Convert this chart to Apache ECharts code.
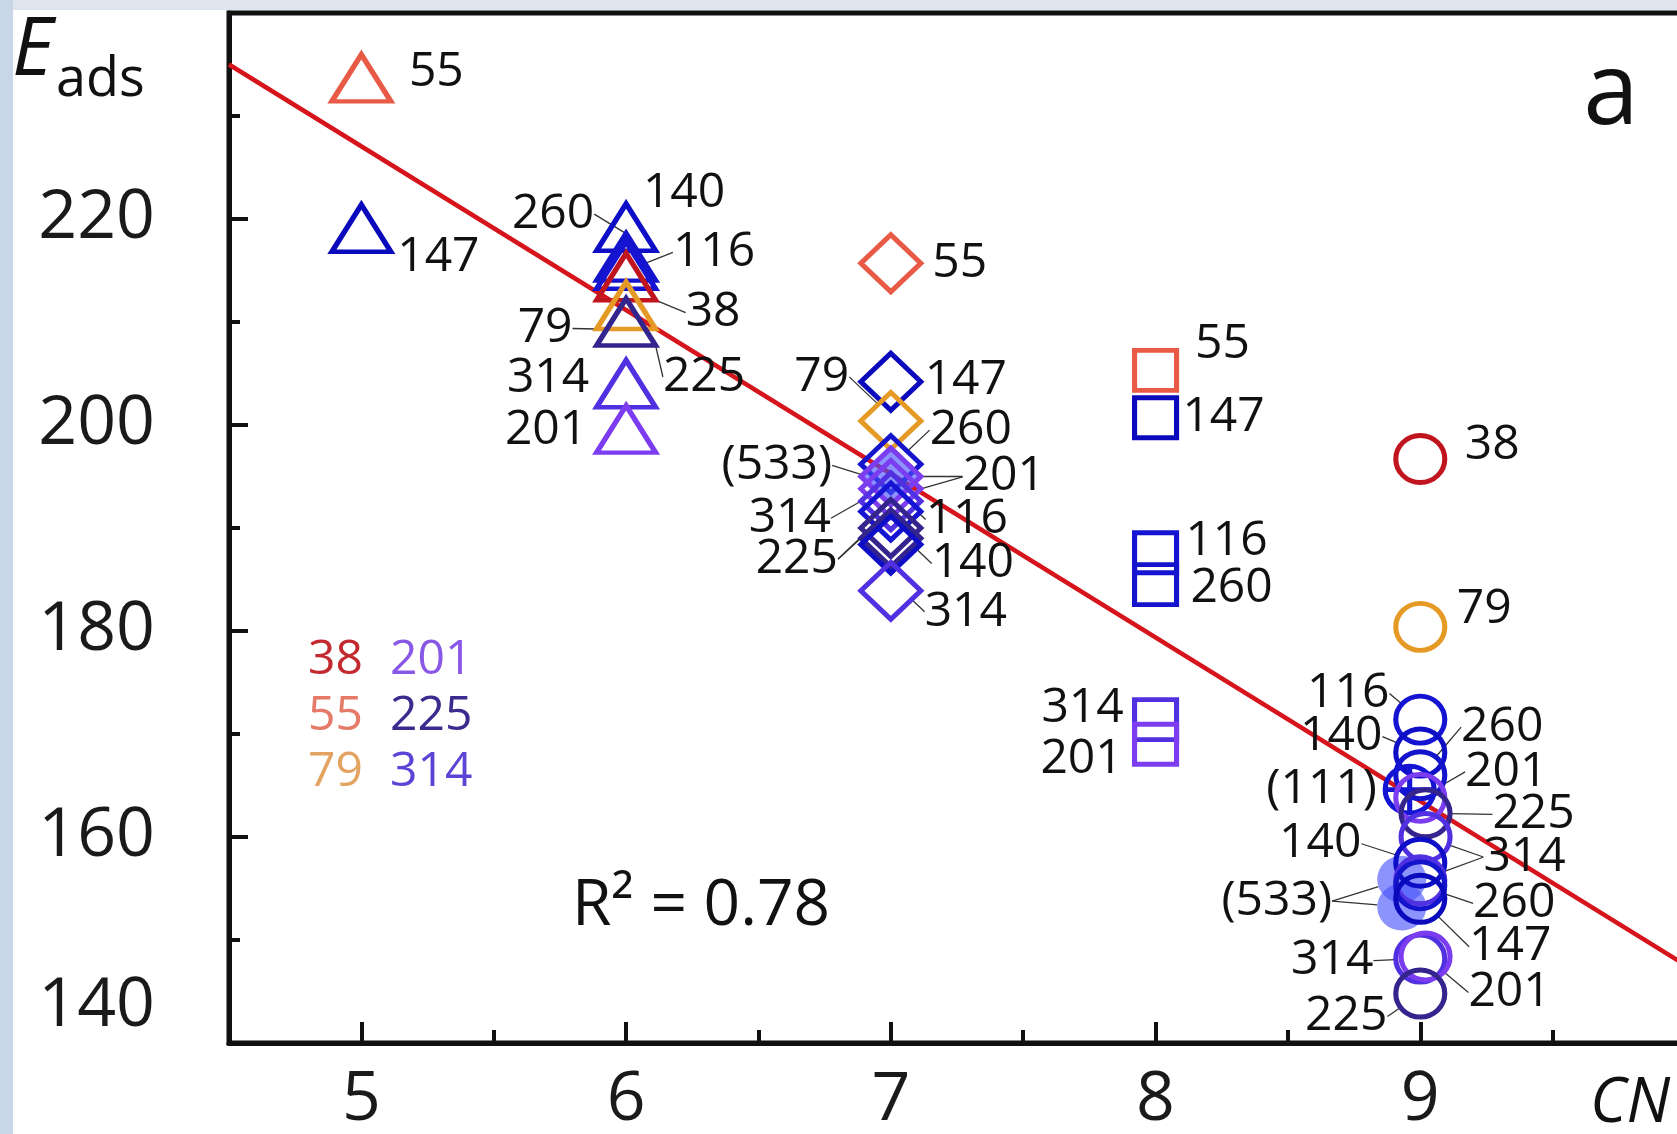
<!DOCTYPE html>
<html>
<head>
<meta charset="utf-8">
<style>
  html, body { margin: 0; padding: 0; background: #fff; }
  #chart { width: 1677px; height: 1134px; }
</style>
<script src="https://cdn.jsdelivr.net/npm/echarts@6/dist/echarts.min.js"></script>
</head>
<body>
<div id="chart"></div>
<script>
// axis ticks
const xLabelValues = [5, 6, 7, 8, 9];
const xMajorTicks = [5, 6, 7, 8, 9, 10];
const xMinorTicks = [5.5, 6.5, 7.5, 8.5, 9.5];
const yLabelValues = [140, 160, 180, 200, 220];

// CN = 5, triangles
const cn5Sizes = ['55', '147'];
const cn5Eads = [233.7, 219.1];
// CN = 6, triangles
const cn6Sizes = ['140', '260', '116', '38', '79', '225', '314', '201'];
const cn6Eads = [219.2, 216.3, 215.5, 214.4, 211.6, 210.0, 204.0, 199.6];
// CN = 7, diamonds
const cn7Sizes = ['55', '147', '79', '260', '(533)', '201', '201', '314', '116', '225', '225', '140', '314'];
const cn7Eads = [215.7, 204.2, 200.4, 196.2, 195.2, 195.0, 193.8, 192.6, 191.6, 190.0, 189.0, 188.4, 183.9];
// CN = 8, squares
const cn8Sizes = ['55', '147', '116', '260', '314', '201'];
const cn8Eads = [205.3, 200.7, 187.6, 184.5, 171.4, 169.0];
// CN = 9, circles (some drawn a bit off the column)
const cn9Sizes = ['(533)', '(533)', '38', '79', '116', '140', '260', '(111)', '201', '225', '314', '140', '314', '260', '147', '314', '201', '225'];
const cn9Eads = [155.9, 153.2, 196.7, 180.4, 171.4, 168.2, 166.0, 164.6, 163.8, 162.3, 160.0, 157.5, 155.8, 155.3, 154.0, 148.2, 148.4, 144.8];
const cn9Cn = [8.93, 8.93, 9, 9, 9, 9, 9, 8.96, 9, 9.02, 9.02, 9, 9, 9, 9, 9, 9.02, 9];

// linear fit
const fitCn = [4.5, 10];
const fitEads = [235.0, 147.6];
const r2Text = 'R² = 0.78';

// colour key
const keyLeft = ['38', '55', '79'];
const keyRight = ['201', '225', '314'];

// label offsets from the marker centre, px
// line flag: 0 no leader, 1 leader, 2 leader only (text shared with the previous point)
const cn5Offsets = [[75, -6], [77, 29]];
const cn5Lines = [0, 0];
const cn6Offsets = [[58, -34], [-73, -43], [88, -13], [87, 36], [-81, 23], [78, 55], [-78, -5], [-80, 1]];
const cn6Lines = [0, 1, 1, 1, 1, 1, 0, 0];
const cn7Offsets = [[69, 0], [75, -1], [-69, -44], [80, -34], [-114, -9], [113, 0], [113, -12], [-101, 17],
  [76, 8], [-94, 31], [-94, 21], [82, 19], [75, 21]];
const cn7Lines = [0, 0, 1, 1, 1, 1, 2, 1, 1, 1, 2, 1, 1];
const cn8Offsets = [[67, -26], [68, 0], [71, -11], [76, 4], [-73, -11], [-74, 15]];
const cn8Lines = [0, 0, 0, 0, 0, 0];
const cn9Offsets = [[-125, 22], [-125, -6], [72, -14], [64, -18], [-72, -26], [-79, -16], [82, -48], [-88, 0],
  [86, -26], [108, 1], [99, 20], [-100, -19], [104, -23], [94, 18], [90, 48], [-88, 2], [84, 36], [-74, 23]];
const cn9Lines = [1, 2, 0, 0, 1, 1, 1, 0, 1, 1, 1, 1, 2, 1, 1, 1, 1, 1];

const sizeColors = {
  '38': '#c0141e', '55': '#e85a46', '79': '#e69a26',
  '116': '#1414d2', '140': '#0e0ec6', '147': '#0a0abc', '260': '#1414cc',
  '201': '#7c3cf0', '225': '#34248e', '314': '#5030e0', '(111)': '#1414d4'
};
const keyColors = { '38': '#c32a30', '55': '#e67a68', '79': '#e3a462', '201': '#8a58e6', '225': '#3b2b8e', '314': '#5b44d6' };
const fill533 = 'rgba(70, 80, 250, 0.62)';
const crossCircle = 'path://M50,2 A48,48 0 1,1 49.99,2 Z M50,2 L50,98 M2,50 L98,50';
const font = '"Open Sans", "Noto Sans", sans-serif';

function pointSeries(cn, eads, sizes, symbol, symbolSize, offsets, lines) {
  return {
    type: 'scatter',
    symbol: symbol,
    symbolSize: symbolSize,
    z: 3,
    itemStyle: { opacity: 1 },
    data: eads.map((e, i) => {
      const s = sizes[i];
      const item = {
        name: s,
        value: [Array.isArray(cn) ? cn[i] : cn, e],
        labelLine: { show: lines[i] > 0 }
      };
      if (s === '(533)') {
        item.itemStyle = { color: fill533, borderWidth: 0, opacity: 1 };
      } else {
        item.itemStyle = { color: 'rgba(0,0,0,0)', borderColor: sizeColors[s], borderWidth: 5, opacity: 1 };
      }
      if (s === '(111)') item.symbol = crossCircle;
      if (lines[i] === 2) item.label = { color: 'rgba(0,0,0,0)' };
      return item;
    }),
    label: {
      show: true, position: 'inside', formatter: '{b}',
      fontSize: 48, fontFamily: font, color: '#111'
    },
    labelLine: { show: true, lineStyle: { color: '#333', width: 1.3, opacity: 1 } },
    labelLayout: p => ({ dx: offsets[p.dataIndex][0], dy: offsets[p.dataIndex][1] }),
    emphasis: { disabled: true },
    silent: true
  };
}

const graphics = [
  { type: 'rect', shape: { x: 0, y: 0, width: 13, height: 1134 }, style: { fill: '#c9d6e8' } },
  { type: 'rect', shape: { x: 13, y: 0, width: 1664, height: 10 }, style: { fill: '#dfe5ee' } },
  { type: 'text', x: 12, y: 52, style: { text: 'E', font: 'italic 80px ' + font, fill: '#111', align: 'left', verticalAlign: 'middle' } },
  { type: 'text', x: 56, y: 81, style: { text: 'ads', font: '54px ' + font, fill: '#111', align: 'left', verticalAlign: 'middle' } },
  { type: 'text', x: 1611, y: 96, style: { text: 'a', font: '100px ' + font, fill: '#111', align: 'center', verticalAlign: 'middle' } },
  { type: 'text', x: 1590, y: 1104, style: { text: 'CN', font: 'italic 62px ' + font, fill: '#111', align: 'left', verticalAlign: 'middle' } },
  { type: 'text', x: 572, y: 907, style: { text: r2Text, font: '64px ' + font, fill: '#111', align: 'left', verticalAlign: 'middle' } }
];
keyLeft.forEach((t, i) => {
  graphics.push({ type: 'text', x: 308, y: 660 + i * 56, style: { text: t, font: '48px ' + font, fill: keyColors[t], align: 'left', verticalAlign: 'middle' } });
});
keyRight.forEach((t, i) => {
  graphics.push({ type: 'text', x: 390, y: 660 + i * 56, style: { text: t, font: '48px ' + font, fill: keyColors[t], align: 'left', verticalAlign: 'middle' } });
});

const axisColor = '#111';
const option = {
  backgroundColor: '#fff',
  animation: false,
  grid: {
    left: 229, right: -8, top: 13, bottom: 91,
    show: true, borderColor: axisColor, borderWidth: 5,
    containLabel: false, outerBoundsMode: 'none'
  },
  xAxis: [{
    type: 'value', min: 4.5, max: 10, position: 'bottom',
    axisLine: { show: true, onZero: false, lineStyle: { color: axisColor, width: 5 } },
    axisTick: { show: true, inside: true, length: 21, customValues: xMajorTicks, lineStyle: { color: axisColor, width: 4 } },
    axisLabel: { show: true, customValues: xLabelValues, margin: 24, fontSize: 68, fontFamily: font, color: '#1a1a1a' },
    splitLine: { show: false }
  }, {
    type: 'value', min: 4.5, max: 10, position: 'bottom',
    axisLine: { show: false },
    axisTick: { show: true, inside: true, length: 13, customValues: xMinorTicks, lineStyle: { color: axisColor, width: 4 } },
    axisLabel: { show: false },
    splitLine: { show: false }
  }],
  yAxis: {
    type: 'value', min: 140, max: 240, interval: 20,
    axisLine: { show: true, onZero: false, lineStyle: { color: axisColor, width: 5 } },
    axisTick: { show: true, inside: true, length: 19, lineStyle: { color: axisColor, width: 4 } },
    minorTick: { show: true, splitNumber: 2, length: 11, lineStyle: { color: axisColor, width: 4 } },
    splitLine: { show: false },
    axisLabel: {
      show: true, customValues: yLabelValues, margin: 74,
      fontSize: 68, lineHeight: 72, fontFamily: font, color: '#1a1a1a',
      // the lowest label sits above the corner
      formatter: v => (v === yLabelValues[0] ? v + '\n' : String(v))
    }
  },
  graphic: graphics,
  series: [
    {
      type: 'line', z: 2, silent: true, symbol: 'none',
      data: fitCn.map((c, i) => [c, fitEads[i]]),
      lineStyle: { color: '#d6141c', width: 4.5 }
    },
    pointSeries(5, cn5Eads, cn5Sizes, 'triangle', [59, 47], cn5Offsets, cn5Lines),
    pointSeries(6, cn6Eads, cn6Sizes, 'triangle', [59, 47], cn6Offsets, cn6Lines),
    pointSeries(7, cn7Eads, cn7Sizes, 'diamond', [60, 57], cn7Offsets, cn7Lines),
    pointSeries(8, cn8Eads, cn8Sizes, 'rect', [42, 40], cn8Offsets, cn8Lines),
    pointSeries(cn9Cn, cn9Eads, cn9Sizes, 'circle', [49, 47], cn9Offsets, cn9Lines)
  ]
};

const myChart = echarts.init(document.getElementById('chart'));
myChart.setOption(option);
</script>
</body>
</html>
